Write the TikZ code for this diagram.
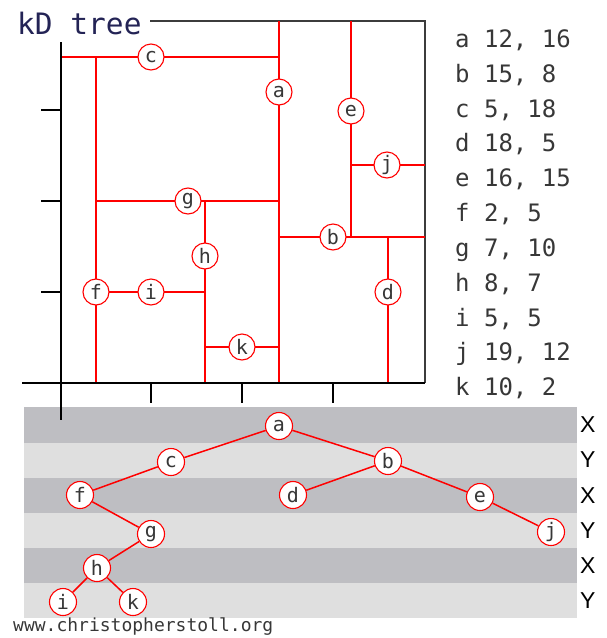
\documentclass[tikz,border=0pt]{standalone}
\usepackage{fontspec}
\setmonofont{DejaVu Sans Mono}
\setsansfont{Liberation Sans}
\definecolor{bandd}{RGB}{190,190,194}
\definecolor{bandl}{RGB}{223,223,223}
\definecolor{titlec}{RGB}{35,35,85}
\definecolor{txt}{RGB}{55,55,55}
\definecolor{boxc}{RGB}{60,60,60}
\tikzset{
  split/.style={red, line width=1.3pt},
  axis/.style={black, line width=2.8pt},
  boxline/.style={boxc, line width=1.6pt},
  pt/.style={circle, draw=red, fill=white, line width=1.1pt, minimum size=26pt, inner sep=0pt,
    font=\ttfamily\fontsize{20}{20}\selectfont, text=txt},
  tn/.style={pt, minimum size=27pt},
  edge/.style={red, line width=1.5pt},
  lst/.style={anchor=base west, inner sep=0pt, font=\ttfamily\fontsize{24}{24}\selectfont, text=txt},
  xy/.style={anchor=west, inner sep=0pt, font=\sffamily\fontsize{23}{23}\selectfont, text=black},
}
\begin{document}
\begin{tikzpicture}[x=1pt,y=-1pt]
\useasboundingbox (0,0) rectangle (606,638);
% bands
\fill[bandd] (24,407) rectangle (577,443);
\fill[bandl] (24,443) rectangle (577,478);
\fill[bandd] (24,478) rectangle (577,513);
\fill[bandl] (24,513) rectangle (577,548);
\fill[bandd] (24,548) rectangle (577,583);
\fill[bandl] (24,583) rectangle (577,618);
% band labels
\node[xy] (lx1) at (580,425) {X};
\node[xy] (ly1) at (580,460) {Y};
\node[xy] (lx2) at (580,496) {X};
\node[xy] (ly2) at (580,531) {Y};
\node[xy] (lx3) at (580,566) {X};
\node[xy] (ly3) at (580,601) {Y};
% title
\node[anchor=base west, inner sep=0pt, font=\ttfamily\fontsize{29.5}{29.5}\selectfont, text=titlec] (title) at (17,34) {kD tree};
% box
\draw[boxline] (150,21) -- (425,21) -- (425,383);
% split lines
\draw[split] (279,21) -- (279,383);   % a
\draw[split] (61,57) -- (279,57);     % c
\draw[split] (96,57) -- (96,383);     % f
\draw[split] (96,201) -- (279,201);   % g
\draw[split] (205,201) -- (205,383);  % h
\draw[split] (96,292) -- (205,292);   % i
\draw[split] (205,347) -- (279,347);  % k
\draw[split] (279,237) -- (425,237);  % b
\draw[split] (351,21) -- (351,237);   % e
\draw[split] (351,165) -- (425,165);  % j
\draw[split] (388,237) -- (388,383);  % d
% axes
\draw[axis] (22,383) -- (425,383);
\draw[axis] (61,42) -- (61,420);
\foreach \yy in {110,201,292} \draw[axis] (41,\yy) -- (61,\yy);
\foreach \xx in {151,242,333} \draw[axis] (\xx,383) -- (\xx,403);
% plot points
\node[pt] (pa) at (279,92) {a};
\node[pt] (pc) at (151,57) {c};
\node[pt] (pe) at (351,111) {e};
\node[pt] (pj) at (387,165) {j};
\node[pt] (pg) at (188,201) {g};
\node[pt] (ph) at (205,256) {h};
\node[pt] (pb) at (333,237) {b};
\node[pt] (pf) at (96,292) {f};
\node[pt] (pi) at (151,292) {i};
\node[pt] (pd) at (388,292) {d};
\node[pt] (pk) at (242,347) {k};
% list
\node[lst] (la) at (455,47) {a 12, 16};
\node[lst] (lb) at (455,82) {b 15, 8};
\node[lst] (lc) at (455,117) {c 5, 18};
\node[lst] (ld) at (455,151) {d 18, 5};
\node[lst] (le) at (455,186) {e 16, 15};
\node[lst] (lf) at (455,221) {f 2, 5};
\node[lst] (lg) at (455,256) {g 7, 10};
\node[lst] (lh) at (455,291) {h 8, 7};
\node[lst] (li) at (455,326) {i 5, 5};
\node[lst] (lj) at (455,360) {j 19, 12};
\node[lst] (lk) at (455,395) {k 10, 2};
% tree nodes
\node[tn] (ta) at (279,426) {a};
\node[tn] (tc) at (171,462) {c};
\node[tn] (tb) at (388,461) {b};
\node[tn] (tf) at (80,495) {f};
\node[tn] (td) at (293,495) {d};
\node[tn] (te) at (480,497) {e};
\node[tn] (tg) at (151,534) {g};
\node[tn] (tj) at (551,532) {j};
\node[tn] (th) at (97,568) {h};
\node[tn] (ti) at (63,602) {i};
\node[tn] (tk) at (133,602) {k};
\draw[edge] (ta) -- (tc);
\draw[edge] (ta) -- (tb);
\draw[edge] (tc) -- (tf);
\draw[edge] (tb) -- (td);
\draw[edge] (tb) -- (te);
\draw[edge] (tf) -- (tg);
\draw[edge] (te) -- (tj);
\draw[edge] (tg) -- (th);
\draw[edge] (th) -- (ti);
\draw[edge] (th) -- (tk);
% footer
\node[anchor=base west, inner sep=0pt, font=\ttfamily\fontsize{18}{18}\selectfont, text=txt] (foot) at (13,631) {www.christopherstoll.org};
\end{tikzpicture}
\end{document}
